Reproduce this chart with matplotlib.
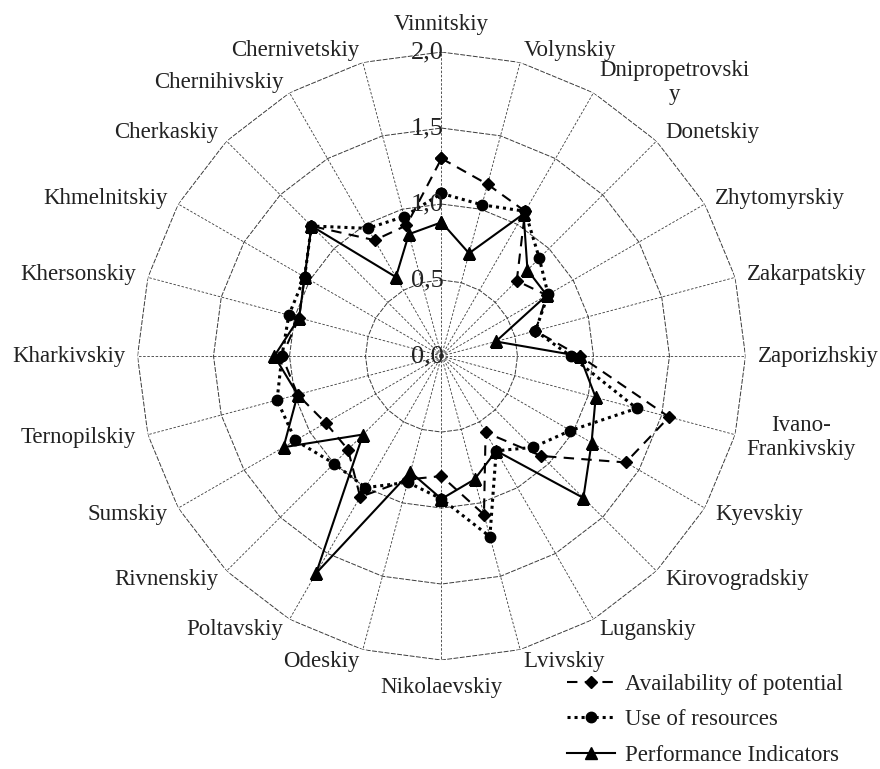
import numpy as np
import matplotlib
matplotlib.use("Agg")
import matplotlib.pyplot as plt
from matplotlib.lines import Line2D

categories = ["Vinnitskiy", "Volynskiy", "Dnipropetrovski\ny", "Donetskiy",
              "Zhytomyrskiy", "Zakarpatskiy", "Zaporizhskiy", "Ivano-\nFrankivskiy",
              "Kyevskiy", "Kirovogradskiy", "Luganskiy", "Lvivskiy",
              "Nikolaevskiy", "Odeskiy", "Poltavskiy", "Rivnenskiy",
              "Sumskiy", "Ternopilskiy", "Kharkivskiy", "Khersonskiy",
              "Khmelnitskiy", "Cherkaskiy", "Chernihivskiy", "Chernivetskiy"]

availability = [1.30, 1.17, 1.10, 0.70, 0.80, 0.64, 0.91, 1.55,
                1.40, 0.93, 0.58, 1.08, 0.79, 0.84, 1.07, 0.87,
                0.88, 0.98, 1.05, 0.97, 1.04, 1.21, 0.88, 0.89]
use_resources = [1.07, 1.03, 1.10, 0.91, 0.81, 0.64, 0.85, 1.33,
                 0.98, 0.85, 0.72, 1.23, 0.94, 0.86, 1.00, 1.00,
                 1.11, 1.12, 1.05, 1.04, 1.04, 1.21, 0.97, 0.95]
performance = [0.88, 0.70, 1.08, 0.80, 0.80, 0.37, 0.91, 1.05,
               1.14, 1.32, 0.72, 0.84, 0.94, 0.79, 1.65, 0.73,
               1.20, 0.98, 1.10, 0.97, 1.04, 1.21, 0.60, 0.83]

series_names = ["Availability of potential", "Use of resources", "Performance Indicators"]
r_ticks = [0.0, 0.5, 1.0, 1.5, 2.0]
r_tick_labels = ["0,0", "0,5", "1,0", "1,5", "2,0"]

plt.rcParams["font.family"] = ["Liberation Serif", "DejaVu Serif"]
FS = 16.5
TICK_FS = 19

fig = plt.figure(figsize=(8.8, 7.69), dpi=100)
ax = fig.add_axes([0.15625, 0.1417, 0.6909, 0.7906], projection="polar")
ax.set_theta_zero_location("N")
ax.set_theta_direction(-1)
ax.set_ylim(0, r_ticks[-1])
ax.grid(False)
ax.spines["polar"].set_visible(False)
ax.set_xticks([])
ax.set_yticks([])
ax.patch.set_alpha(0)

n = len(categories)
theta = np.linspace(0, 2 * np.pi, n, endpoint=False)
theta_closed = np.append(theta, theta[0])

# polygon rings
for r in r_ticks[1:]:
    ax.plot(theta_closed, [r] * (n + 1), color="#3a3a3a", lw=0.7,
            linestyle=(0, (5, 1.5)), zorder=1)
# spokes
for t in theta:
    ax.plot([t, t], [0, r_ticks[-1]], color="#3a3a3a", lw=0.6,
            linestyle=(0, (3, 2)), zorder=1)

def closed(v):
    return np.append(v, v[0])

ax.plot(theta_closed, closed(availability), color="black", lw=1.5,
        linestyle=(0, (5, 3.5)), marker="D", markersize=6, zorder=3)
ax.plot(theta_closed, closed(use_resources), color="black", lw=2.2,
        linestyle=(0, (1, 1.3)), marker="o", markersize=7.5, zorder=3)
ax.plot(theta_closed, closed(performance), color="black", lw=1.5,
        linestyle="-", marker="^", markersize=8, zorder=3)

# radial tick labels along top spoke
for r, lab in zip(r_ticks, r_tick_labels):
    ax.annotate(lab, xy=(0, r), xytext=(2, 0), textcoords="offset pixels",
                ha="right", va="center", fontsize=TICK_FS, color="#222222", zorder=4)

# category labels
for t, lab in zip(theta, categories):
    s, c = np.sin(t), np.cos(t)
    if abs(s) < 0.01:
        ha = "center"
        va = "bottom" if c > 0 else "top"
        d = 17
    else:
        ha = "left" if s > 0 else "right"
        va = "center"
        d = 12
    ax.annotate(lab, xy=(t, r_ticks[-1]), xytext=(d * s, d * c),
                textcoords="offset pixels", ha=ha, va=va,
                multialignment="center", fontsize=FS, color="#222222",
                annotation_clip=False)

handles = [
    Line2D([], [], color="black", lw=1.5, linestyle=(0, (5, 3.5)), marker="D", markersize=6),
    Line2D([], [], color="black", lw=2.2, linestyle=(0, (1, 1.3)), marker="o", markersize=7.5),
    Line2D([], [], color="black", lw=1.5, linestyle="-", marker="^", markersize=8),
]
fig.legend(handles, series_names, loc="upper left", bbox_to_anchor=(0.6443, 0.1235),
           frameon=False, fontsize=FS, handlelength=2.1, handletextpad=0.45,
           labelspacing=0.62, borderpad=0, borderaxespad=0, labelcolor="#222222")

fig.savefig("out.png", dpi=100)
